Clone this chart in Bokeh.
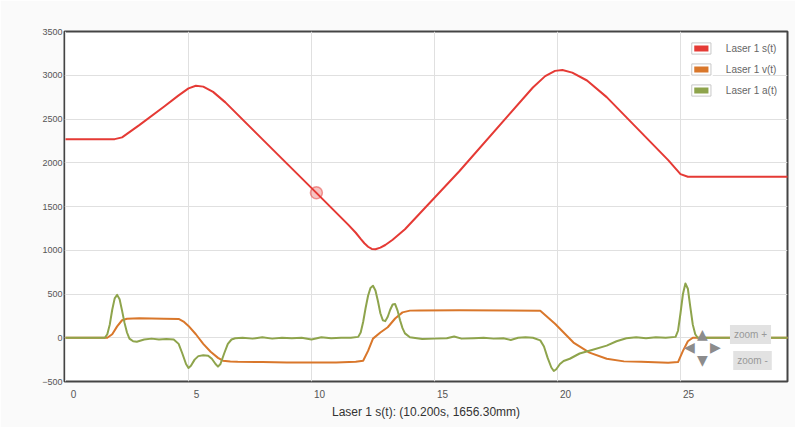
from bokeh.plotting import figure
from bokeh.models import Range1d, LinearAxis, FixedTicker, Legend, LegendItem, Label
from bokeh.embed import file_html
from bokeh.resources import INLINE

# ---- data -------------------------------------------------------------
s_t = [0, 2.0, 2.3, 3.0, 4.0, 4.6, 5.0, 5.3, 5.6, 6.0, 6.5, 8.0, 10.2, 11.5, 11.8,
       12.0, 12.15, 12.3, 12.45, 12.6, 12.8, 13.0, 13.3, 13.8, 16.0, 19.0, 19.5,
       19.9, 20.2, 20.6, 21.2, 22.0, 24.5, 25.0, 25.3, 29.4]
s_val = [2270, 2270, 2290, 2430, 2640, 2770, 2850, 2880, 2870, 2810, 2690, 2270, 1656,
         1290, 1200, 1130, 1080, 1040, 1015, 1012, 1030, 1060, 1120, 1240, 1900, 2860,
         2990, 3050, 3060, 3030, 2940, 2750, 2030, 1870, 1840, 1840]

v_t = [0, 1.7, 1.9, 2.1, 2.3, 2.5, 3.0, 4.0, 4.6, 4.8, 5.0, 5.3, 5.6, 5.9, 6.2, 6.4,
       6.7, 7.0, 8.0, 9.0, 10.0, 11.0, 11.8, 12.1, 12.3, 12.5, 12.8, 13.1, 13.4, 13.7,
       14.0, 14.4, 16.0, 18.0, 19.3, 19.9, 20.65, 21.3, 22.0, 22.7, 23.4, 24.5, 24.9,
       25.1, 25.3, 25.5, 29.4]
v_val = [0, 0, 40, 130, 200, 218, 222, 218, 215, 185, 135, 40, -70, -160, -230, -262,
         -272, -275, -278, -282, -284, -282, -275, -263, -150, -10, 60, 120, 220, 290,
         310, 312, 313, 312, 308, 160, -55, -170, -240, -270, -275, -285, -278,
         -150, -40, 0, 0]

a_t = [0, 1.6, 1.7, 1.8, 1.9, 2.0, 2.1, 2.2, 2.3, 2.4, 2.5, 2.6, 2.75, 2.9, 3.2, 3.5,
       3.8, 4.1, 4.4, 4.6, 4.75, 4.9, 5.0, 5.1, 5.25, 5.4, 5.6, 5.8, 5.95, 6.1, 6.2,
       6.3, 6.45, 6.6, 6.75, 6.9, 7.2, 7.6, 8.0, 8.4, 8.8, 9.2, 9.6, 10.0, 10.4, 10.8,
       11.2, 11.6, 11.9, 12.0, 12.1, 12.2, 12.3, 12.4, 12.5, 12.6, 12.7, 12.8, 12.9,
       13.0, 13.1, 13.2, 13.3, 13.4, 13.5, 13.6, 13.7, 13.8, 14.0, 14.5, 15.0, 15.5,
       15.8, 16.1, 16.6, 17.0, 17.4, 17.8, 18.1, 18.4, 18.7, 19.0, 19.3, 19.45, 19.6,
       19.75, 19.85, 19.95, 20.1, 20.25, 20.5, 20.9, 21.4, 22.0, 22.4, 22.8, 23.2,
       23.6, 24.0, 24.4, 24.8, 24.9, 25.0, 25.1, 25.2, 25.3, 25.4, 25.5, 25.6, 25.7,
       29.4]
a_val = [0, 0, 40, 150, 320, 450, 490, 440, 310, 170, 60, -10, -40, -45, -20, -10,
         -20, -15, -20, -70, -180, -300, -345, -320, -250, -210, -200, -205, -240, -300,
         -330, -300, -180, -70, -20, -5, 0, -10, 5, -10, 0, -5, 0, -20, 5, -5,
         0, 0, 10, 60, 180, 340, 480, 570, 595, 540, 420, 280, 200,
         190, 240, 320, 380, 385, 310, 200, 110, 50, 5, -15, -10, -5,
         15, -10, -5, 0, -10, -5, -25, 0, 5, 0, -30, -100, -230,
         -340, -380, -360, -300, -265, -240, -180, -140, -90, -40, -5, 5,
         -5, 5, 0, 10, 80, 280, 500, 620, 560, 350, 150, 40, 0,
         0]

hover_t = [10.2]
hover_s = [1656.3]

series_names = ["Laser 1 s(t)", "Laser 1 v(t)", "Laser 1 a(t)"]
series_colors = ["#e53a35", "#d9772b", "#8ea44c"]

y_ticks = [-500, 0, 500, 1000, 1500, 2000, 2500, 3000, 3500]
x_ticks = [0, 5, 10, 15, 20, 25]
x_label = "Laser 1 s(t): (10.200s, 1656.30mm)"

# ---- figure -----------------------------------------------------------
x0, x1 = -0.04, 29.35
p = figure(frame_width=723, frame_height=350,
           x_range=Range1d(x0, x1), y_range=Range1d(-500, 3500),
           x_axis_location=None, output_backend="svg", toolbar_location=None,
           min_border_left=64, min_border_right=8, min_border_top=31, min_border_bottom=46)
p.background_fill_color = "white"
p.border_fill_color = "#fafafa"
p.outline_line_color = "#444444"
p.outline_line_width = 2

# shifted range so tick labels sit slightly right of grid lines (as in the reference)
shift = 0.33
p.extra_x_ranges = {"lab": Range1d(x0 - shift, x1 - shift)}
xax = LinearAxis(x_range_name="lab", ticker=FixedTicker(ticks=x_ticks),
                 axis_label=x_label)
p.add_layout(xax, "below")
xax.axis_line_color = None
xax.major_tick_line_color = None
xax.minor_tick_line_color = None
xax.major_label_text_font = "Liberation Sans"
xax.major_label_text_font_size = "10px"
xax.major_label_text_color = "#555555"
xax.major_label_standoff = 2
xax.axis_label_text_font = "Liberation Sans"
xax.axis_label_text_font_size = "12px"
xax.axis_label_text_font_style = "normal"
xax.axis_label_text_color = "#333333"
xax.axis_label_standoff = 4

p.xgrid.ticker = FixedTicker(ticks=x_ticks)
p.xgrid.grid_line_color = "#e0e0e0"

yax = p.yaxis[0]
yax.ticker = FixedTicker(ticks=y_ticks)
yax.axis_line_color = None
yax.major_tick_line_color = None
yax.minor_tick_line_color = None
yax.major_label_text_font = "Liberation Sans"
yax.major_label_text_font_size = "9px"
yax.major_label_text_color = "#555555"
yax.major_label_standoff = -4
p.ygrid.ticker = FixedTicker(ticks=y_ticks)
p.ygrid.grid_line_color = "#e0e0e0"

# ---- series -----------------------------------------------------------
p.line(v_t, v_val, line_color=series_colors[1], line_width=2, line_join="round")
p.line(a_t, a_val, line_color=series_colors[2], line_width=2, line_join="round")
p.line(s_t, s_val, line_color=series_colors[0], line_width=2, line_join="round")
p.scatter(hover_t, hover_s, size=12, fill_color=series_colors[0], fill_alpha=0.3,
          line_color=series_colors[0], line_alpha=0.5, line_width=1.5)

# ---- legend (filled swatches) -----------------------------------------
nan = float("nan")
items = []
for name, col in zip(series_names, series_colors):
    sw = p.quad(left=[nan], right=[nan], top=[nan], bottom=[nan], fill_color=col,
                line_color="white", line_width=5)
    bx = p.quad(left=[nan], right=[nan], top=[nan], bottom=[nan], fill_alpha=0,
                line_color="#c8c8c8", line_width=1)
    items.append(LegendItem(label=name, renderers=[sw, bx]))
leg = Legend(items=items, location="top_right")
leg.glyph_width = 24
leg.glyph_height = 14
leg.label_height = 14
leg.spacing = 7
leg.padding = 8
leg.margin = 10
leg.label_standoff = 13
leg.label_text_font = "Liberation Sans"
leg.label_text_font_size = "10px"
leg.label_text_color = "#666666"
leg.border_line_color = None
leg.background_fill_alpha = 0
p.add_layout(leg)

# ---- zoom / pan controls ---------------------------------------------
for txt, xs, ys in [("zoom +", 686, 47), ("zoom -", 688, 21)]:
    p.add_layout(Label(x=xs, y=ys, x_units="screen", y_units="screen", text=txt,
                       text_align="center", text_baseline="middle",
                       text_font="Liberation Sans", text_font_size="10px",
                       text_color="#999999", background_fill_color="#e2e2e2",
                       padding=4))
for txt, xs, ys in [("\u25b2", 638, 48), ("\u25bc", 638, 22), ("\u25c0", 625, 35),
                    ("\u25b6", 651, 35)]:
    p.add_layout(Label(x=xs, y=ys, x_units="screen", y_units="screen", text=txt,
                       text_align="center", text_baseline="middle",
                       text_font="DejaVu Sans", text_font_size="14px",
                       text_color="#8c8c8c"))

open("out.html", "w").write(file_html(p, INLINE))
